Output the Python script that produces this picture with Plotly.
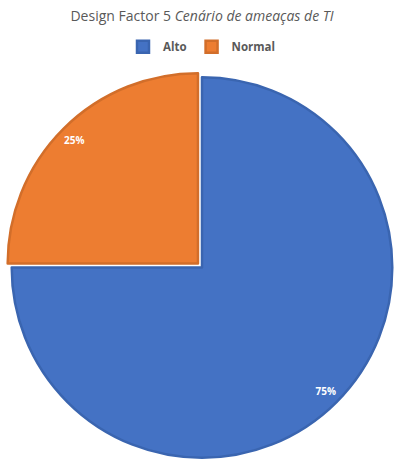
import plotly.graph_objects as go

labels = ["Alto", "Normal"]
values = [75, 25]
colors = ["#4472C4", "#ED7D31"]
edge_colors = ["#3A65B0", "#D26E2A"]
pulls = [0, 0.03]
title_main = "Design Factor 5 "
title_italic = "Cenário de ameaças de TI"

fig = go.Figure()

# main pie
fig.add_trace(go.Pie(
    labels=labels, values=values, sort=False, direction="clockwise", rotation=0,
    pull=pulls,
    marker=dict(colors=colors, line=dict(color=edge_colors, width=2.5)),
    textinfo="none", hoverinfo="label+percent",
))

# transparent ring used only to place labels near the rim
fig.add_trace(go.Pie(
    labels=labels, values=values, sort=False, direction="clockwise", rotation=0,
    pull=pulls, hole=0.84, showlegend=False,
    marker=dict(colors=["rgba(0,0,0,0)"] * 2, line=dict(width=0)),
    textinfo="percent", textposition="inside", insidetextorientation="horizontal",
    textfont=dict(family="Open Sans", size=10, color="white", weight="bold"),
    hoverinfo="skip",
))

fig.update_layout(
    width=398, height=464,
    margin=dict(l=6, r=0, t=71, b=0),
    paper_bgcolor="white",
    title=dict(
        text=f"{title_main}<i>{title_italic}</i>",
        x=0.5, xanchor="center", xref="paper",
        y=1 - 16 / 464, yref="container", yanchor="middle",
        font=dict(family="Open Sans", size=14, color="#595959"),
    ),
    legend=dict(
        orientation="h", x=0.5, xanchor="center", y=1.062, yanchor="middle",
        font=dict(family="Open Sans", size=11.5, color="#595959", weight="bold"),
        itemwidth=30, traceorder="normal",
    ),
)

fig.write_html("out.html")
